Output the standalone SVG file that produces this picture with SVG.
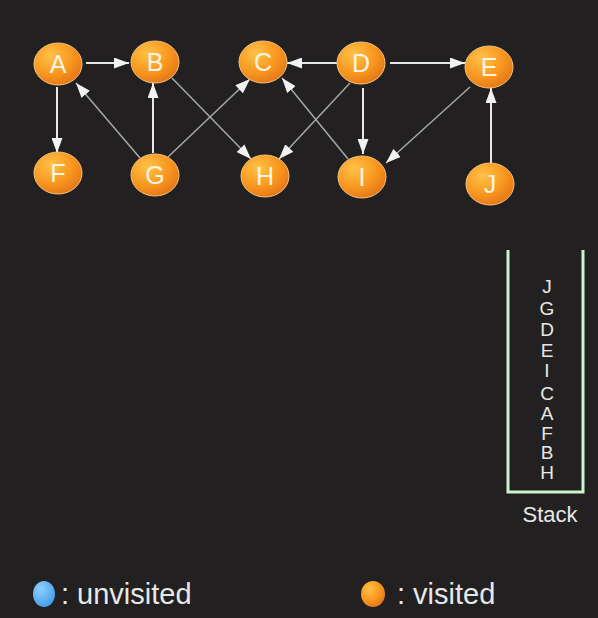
<svg xmlns="http://www.w3.org/2000/svg" width="598" height="618" viewBox="0 0 598 618">
<defs>
<radialGradient id="og" cx="0.35" cy="0.3" r="0.8">
<stop offset="0" stop-color="#ffc247"/>
<stop offset="0.6" stop-color="#f7941d"/>
<stop offset="1" stop-color="#e0701a"/>
</radialGradient>
<radialGradient id="bg" cx="0.35" cy="0.3" r="0.8">
<stop offset="0" stop-color="#8fd0ff"/>
<stop offset="1" stop-color="#3e9be8"/>
</radialGradient>
<marker id="ah" markerUnits="userSpaceOnUse" markerWidth="15" markerHeight="11" refX="15" refY="5.5" orient="auto">
<path d="M0,0 L15,5.5 L0,11 z" fill="#f2f2f2"/>
</marker>
<style>
.node ellipse{fill:url(#og);stroke:#f6c27a;stroke-width:1}
.node text{font-family:"Liberation Sans",Arial,sans-serif;font-size:25px;fill:#fff4e2;text-anchor:middle}
.e{stroke:#e6e6e6;stroke-width:2;fill:none;marker-end:url(#ah)}
.d{stroke:#a8a8a8;stroke-width:1.5;fill:none;marker-end:url(#ah)}
.st{font-family:"Liberation Sans",Arial,sans-serif;font-size:19px;fill:#e8e8e8;text-anchor:middle}
.lg{font-family:"Liberation Sans",Arial,sans-serif;font-size:29px;fill:#e8e8e8}
</style>
</defs>
<rect width="598" height="618" fill="#222021"/>
<g id="connectors">
<line class="e" x1="86" y1="63" x2="129" y2="63"/>
<line class="e" x1="57" y1="87" x2="57" y2="153"/>
<line class="d" x1="140" y1="158" x2="76" y2="83"/>
<line class="e" x1="153" y1="153" x2="153" y2="83"/>
<line class="d" x1="168" y1="157" x2="250" y2="79"/>
<line class="d" x1="172" y1="78" x2="251" y2="159"/>
<line class="e" x1="337" y1="63" x2="287" y2="63"/>
<line class="d" x1="350" y1="83" x2="279" y2="159"/>
<line class="d" x1="348" y1="159" x2="282" y2="78"/>
<line class="e" x1="390" y1="63" x2="465" y2="63"/>
<line class="e" x1="363" y1="88" x2="363" y2="154"/>
<line class="d" x1="470" y1="87" x2="386" y2="163"/>
<line class="e" x1="491" y1="163" x2="491" y2="88"/>
</g>
<g id="A" class="node"><ellipse cx="58" cy="64" rx="24" ry="21"/><text x="58" y="73">A</text></g>
<g id="B" class="node"><ellipse cx="155" cy="62" rx="24" ry="21"/><text x="155" y="71">B</text></g>
<g id="C" class="node"><ellipse cx="263" cy="62" rx="24" ry="21"/><text x="263" y="71">C</text></g>
<g id="D" class="node"><ellipse cx="361" cy="63" rx="24" ry="21"/><text x="361" y="72">D</text></g>
<g id="E" class="node"><ellipse cx="489" cy="67" rx="24" ry="21"/><text x="489" y="76">E</text></g>
<g id="F" class="node"><ellipse cx="58" cy="173" rx="24" ry="21"/><text x="58" y="182">F</text></g>
<g id="G" class="node"><ellipse cx="155" cy="175" rx="24" ry="21"/><text x="155" y="184">G</text></g>
<g id="H" class="node"><ellipse cx="265" cy="176" rx="24" ry="21"/><text x="265" y="185">H</text></g>
<g id="I" class="node"><ellipse cx="362" cy="177" rx="24" ry="21"/><text x="362" y="186">I</text></g>
<g id="J" class="node"><ellipse cx="490" cy="184" rx="24" ry="21"/><text x="490" y="193">J</text></g>
<g id="stack">
<path d="M508,250 V492 H583 V250" fill="none" stroke="#cdf3cd" stroke-width="3"/>
<text class="st" x="547" y="293">J</text>
<text class="st" x="547" y="315">G</text>
<text class="st" x="547" y="336">D</text>
<text class="st" x="547" y="357">E</text>
<text class="st" x="547" y="377">I</text>
<text class="st" x="547" y="400">C</text>
<text class="st" x="547" y="420">A</text>
<text class="st" x="547" y="440">F</text>
<text class="st" x="547" y="459">B</text>
<text class="st" x="547" y="479">H</text>
<text x="550" y="522" font-family="Liberation Sans, Arial, sans-serif" font-size="22" fill="#e8e8e8" text-anchor="middle">Stack</text>
</g>
<g id="legend">
<ellipse cx="44" cy="594" rx="11" ry="13" fill="url(#bg)"/>
<text class="lg" x="61" y="604">: unvisited</text>
<ellipse cx="373" cy="594" rx="12" ry="13" fill="url(#og)"/>
<text class="lg" x="397" y="604">: visited</text>
</g>
</svg>
